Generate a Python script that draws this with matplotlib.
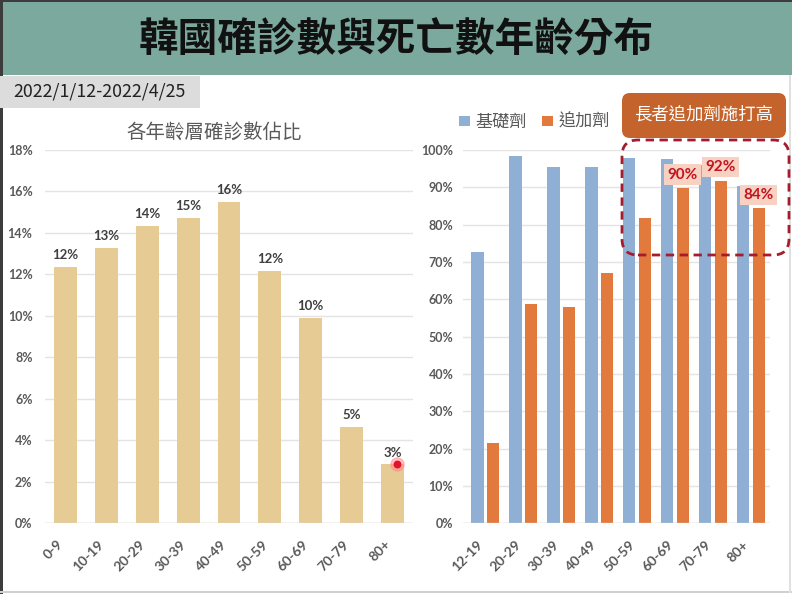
import numpy as np
import matplotlib
matplotlib.use('Agg')
import matplotlib.pyplot as plt
from matplotlib.patches import Rectangle, FancyBboxPatch
from matplotlib.transforms import IdentityTransform

plt.rcParams['font.family'] = ['Noto Sans CJK TC', 'DejaVu Sans']

W, H = 792, 594

title = '韓國確診數與死亡數年齡分布'
date_range = '2022/1/12-2022/4/25'
left_title = '各年齡層確診數佔比'
callout = '長者追加劑施打高'

case_groups = ['0-9', '10-19', '20-29', '30-39', '40-49', '50-59', '60-69', '70-79', '80+']
case_share = [12.37, 13.29, 14.33, 14.73, 15.51, 12.16, 9.91, 4.65, 2.83]

vax_groups = ['12-19', '20-29', '30-39', '40-49', '50-59', '60-69', '70-79', '80+']
primary = [72.8, 98.4, 95.5, 95.4, 97.9, 97.5, 96.0, 90.4]
booster = [21.4, 58.7, 58.0, 67.1, 81.7, 89.9, 91.8, 84.4]
series_names = ['基礎劑', '追加劑']
labelled = [5, 6, 7]  # booster bars with a value tag

TAN = '#E6CB95'
BLUE = '#8FB0D4'
ORANGE = '#E27A3D'
GRID = '#E4E4E4'
TICK = '#595959'
ident = IdentityTransform()


def box(x0, y0, x1, y1, **kw):
    # rectangle given in image pixels (origin top-left)
    return Rectangle((x0, H - y1), x1 - x0, y1 - y0, transform=ident, **kw)


fig = plt.figure(figsize=(W / 100, H / 100), dpi=100)
fig.patch.set_facecolor('white')

# slide decoration
fig.add_artist(box(0, 0, W, 75, facecolor='#7BA99D', edgecolor='none'))
fig.add_artist(box(0, 0, W, 2, facecolor='#3C3C3C', edgecolor='none'))
fig.add_artist(box(0, 0, 3, H, facecolor='#3C3C3C', edgecolor='none'))
fig.add_artist(box(0, 76, 200, 108, facecolor='#DCDCDC', edgecolor='none'))
fig.add_artist(box(0, 591, W, 593, facecolor='#D0D0D0', edgecolor='none'))
fig.add_artist(box(789, 75, 791, 593, facecolor='#E0E0E0', edgecolor='none'))

fig.text(396, H - 40, title, transform=ident, ha='center', va='center',
         fontsize=28.5, weight='bold', color='#111111')
fig.text(13, H - 92, date_range, transform=ident, ha='left', va='center',
         fontsize=12.8, color='#222222')


def style_axis(ax):
    ax.set_axisbelow(True)
    ax.yaxis.grid(True, color=GRID, lw=1)
    for s in ax.spines.values():
        s.set_visible(False)
    ax.tick_params(length=0, colors=TICK)
    for lbl in ax.get_yticklabels():
        lbl.set_family('Lato')
        lbl.set_weight('bold')
        lbl.set_fontsize(9)
    for lbl in ax.get_xticklabels():
        lbl.set_family('Lato')
        lbl.set_weight('bold')
        lbl.set_fontsize(10)
        lbl.set_rotation(45)
        lbl.set_ha('right')
        lbl.set_va('top')


# left chart: share of cases
ax1 = fig.add_axes([45 / W, 1 - 523 / H, 368 / W, 373 / H])
x1 = np.arange(len(case_groups))
ax1.bar(x1, case_share, width=0.56, color=TAN)
ax1.set_xlim(-0.5, 8.5)
ax1.set_ylim(0, 18)
ax1.set_yticks(np.arange(0, 19, 2))
ax1.set_yticklabels([f'{v}%' for v in range(0, 19, 2)])
ax1.set_xticks(x1)
ax1.set_xticklabels(case_groups)
ax1.tick_params(axis='y', pad=9)
ax1.tick_params(axis='x', pad=11)
style_axis(ax1)
ax1.axhline(0, color='#D6D6D6', lw=1)
for i, v in enumerate(case_share):
    ax1.annotate(f'{round(v)}%', (i, v), xytext=(0, 4), textcoords='offset points',
                 ha='center', va='bottom', fontsize=9.5, weight='bold',
                 family='Lato', color='#3F3F3F')
fig.text(214, H - 133, left_title, transform=ident, ha='center', va='center',
         fontsize=14, color=TICK)
# laser pointer dot
ax1.scatter([8.1], [case_share[-1]], s=90, color='#FF8A8A', alpha=0.5, zorder=5, clip_on=False)
ax1.scatter([8.1], [case_share[-1]], s=22, color='#E3122B', zorder=6, clip_on=False)

# right chart: vaccination coverage
ax2 = fig.add_axes([463 / W, 1 - 523.3 / H, 307 / W, 373.3 / H])
x2 = np.arange(len(vax_groups))
b1 = ax2.bar(x2 - 0.2, primary, width=0.32, color=BLUE, label=series_names[0])
b2 = ax2.bar(x2 + 0.2, booster, width=0.32, color=ORANGE, label=series_names[1])
ax2.set_xlim(-0.58, 7.5)
ax2.set_ylim(0, 100)
ax2.set_yticks(np.arange(0, 101, 10))
ax2.set_yticklabels([f'{v}%' for v in range(0, 101, 10)])
ax2.set_xticks(x2)
ax2.set_xticklabels(vax_groups)
ax2.tick_params(axis='y', pad=7)
ax2.tick_params(axis='x', pad=11)
style_axis(ax2)
ax2.axhline(0, color='#D6D6D6', lw=1)
for i in labelled:
    ax2.annotate(f'{round(booster[i])}%', (i + 0.2, booster[i]), xytext=(0, 9.5),
                 textcoords='offset points', ha='center', va='center',
                 fontsize=11, weight='bold', family='Lato', color='#C3141F',
                 bbox=dict(boxstyle='square,pad=0.2', fc='#F7D2C3', ec='none'),
                 zorder=6)

fig.legend(handles=[b1, b2], loc='center left', bbox_to_anchor=(444 / W, 1 - 122 / H),
           ncol=2, frameon=False, fontsize=12.3, handlelength=0.6, handleheight=0.6,
           handletextpad=0.35, columnspacing=0.9, labelcolor=TICK)

# callout and dashed highlight
fig.add_artist(FancyBboxPatch((622, H - 138), 164, 45, transform=ident,
                              boxstyle='round,pad=0,rounding_size=8',
                              facecolor='#C4632B', edgecolor='none'))
fig.text(704, H - 115, callout, transform=ident, ha='center', va='center',
         fontsize=12.5, color='white')
fig.add_artist(FancyBboxPatch((622, H - 255), 167, 115, transform=ident,
                              boxstyle='round,pad=0,rounding_size=16',
                              facecolor='none', edgecolor='#A51D2D', lw=2,
                              linestyle=(0, (3, 2)), zorder=10))

fig.savefig('out.png', dpi=100)
